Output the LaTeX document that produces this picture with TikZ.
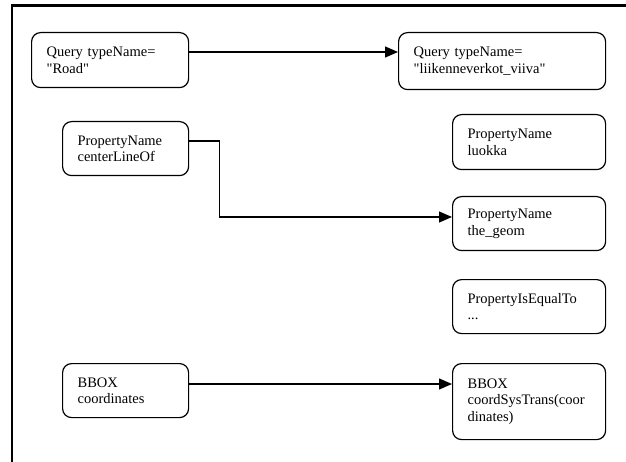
\documentclass[tikz,border=0pt]{standalone}
\usepackage{fontspec}
\setmainfont{Liberation Serif}[Ligatures=TeXOff]
\usetikzlibrary{arrows.meta,calc}
\begin{document}
\begin{tikzpicture}[x=1pt,y=-1pt,
  box/.style={draw, line width=1.2pt, rounded corners=9pt, anchor=north west,
    align=left, inner xsep=15pt, inner ysep=0pt,
    font=\fontsize{14.5pt}{16.5pt}\selectfont},
  arr/.style={line width=1.2pt, -{Triangle[length=13pt,width=11pt]}},
  frame/.style={line width=2.6pt}
]
\useasboundingbox (0,0) rectangle (626,462);
\fill[white] (0,0) rectangle (626,462);
\draw[frame] (12,470) -- (12,5.5) -- (640,5.5);

\node[box, text width=127pt, minimum height=55pt] (q1) at (31,32) {Query typeName=\\"Road"};
\node[box, text width=177pt, minimum height=57pt] (q2) at (398,32) {Query typeName=\\"liikenneverkot\_viiva"};
\node[box, text width=96pt, minimum height=54pt] (pn1) at (62,121) {PropertyName\\centerLineOf};
\node[box, text width=123pt, minimum height=55pt] (pn2) at (452,114) {PropertyName\\luokka};
\node[box, text width=123pt, minimum height=54pt] (pn3) at (452,196) {PropertyName\\the\_geom};
\node[box, text width=123pt, minimum height=54pt] (eq) at (452,279) {PropertyIsEqualTo\\...};
\node[box, text width=96pt, minimum height=54pt] (bb1) at (62,363) {BBOX\\coordinates};
\node[box, text width=123pt, minimum height=76pt] (bb2) at (452,363) {BBOX\\coordSysTrans(coor\\dinates)};

\coordinate (a1) at ($(q1.north east)+(0,20)$);
\draw[arr] (a1) -- (a1 -| q2.west);
\coordinate (a2) at ($(pn1.north east)+(0,20)$);
\coordinate (a2e) at ($(pn3.north west)+(0,21)$);
\draw[arr] (a2) -- ++(30,0) |- (a2e);
\coordinate (a3) at ($(bb1.north east)+(0,21)$);
\draw[arr] (a3) -- (a3 -| bb2.west);
\end{tikzpicture}
\end{document}
